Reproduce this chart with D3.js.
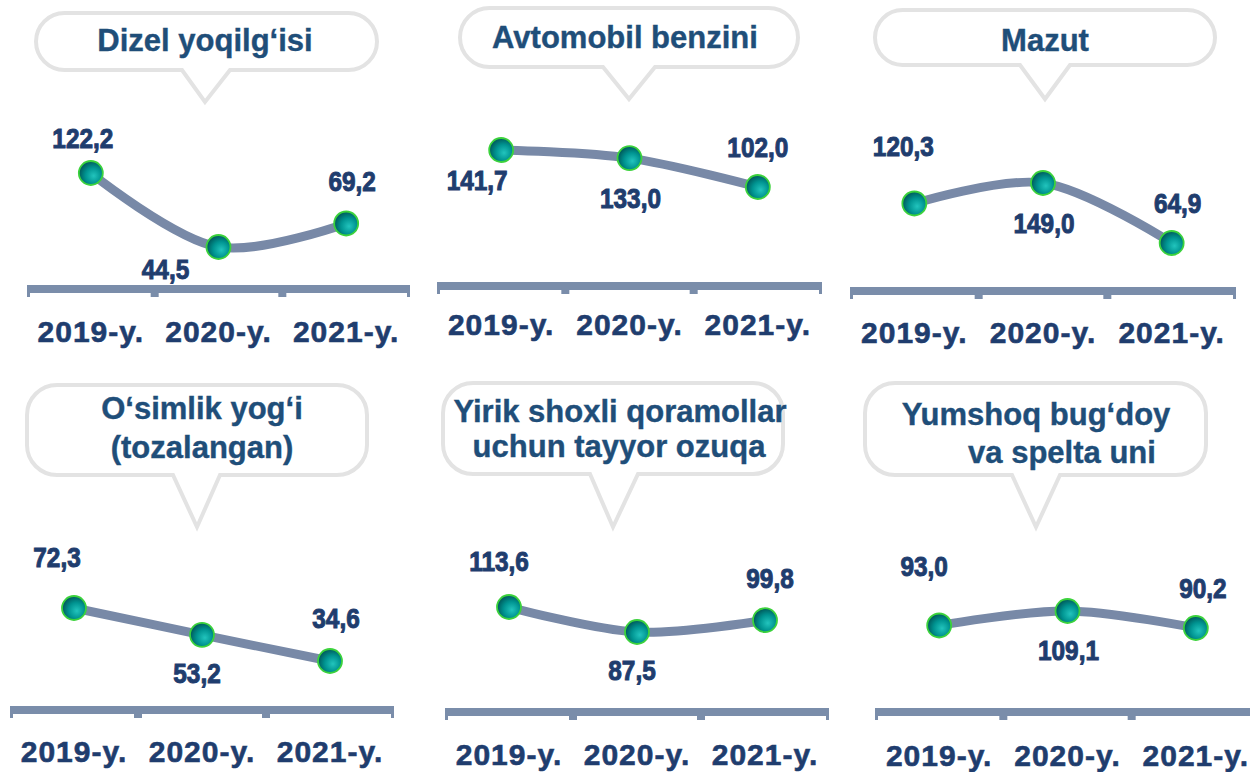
<!DOCTYPE html>
<html>
<head>
<meta charset="utf-8">
<script src="https://cdn.jsdelivr.net/npm/d3@7"></script>
<style>
  body { margin: 0; background: #fff; }
  svg { display: block; font-family: "Liberation Sans", Arial, sans-serif; }
</style>
</head>
<body>
<div id="chart"></div>
<script>
// Data
const years = ["2019-y.", "2020-y.", "2021-y."];
const titles = [
    ["Dizel yoqilg‘isi"],
    ["Avtomobil benzini"],
    ["Mazut"],
    ["O‘simlik yog‘i", "(tozalangan)"],
    ["Yirik shoxli qoramollar", "uchun tayyor ozuqa"],
    ["Yumshoq bug‘doy", "va spelta uni"]
];
const dizel = [122.2, 44.5, 69.2];
const benzin = [141.7, 133.0, 102.0];
const mazut = [120.3, 149.0, 64.9];
const osimlikYogi = [72.3, 53.2, 34.6];
const ozuqa = [113.6, 87.5, 99.8];
const bugdoyUni = [93.0, 109.1, 90.2];
const series = [dizel, benzin, mazut, osimlikYogi, ozuqa, bugdoyUni];

// Layout of each small panel (pixels)
const layout = [
    {ax: [27, 410], axisY: 285, tickY: 57, yr: [247, 173],
     bub: [36, 13, 377, 70], tail: [182, 230, 205, 102], tx: [205, 205], ty: [51],
     lab: [[-8, -25], [-53, 32], [6, -32]]},
    {ax: [437, 822], axisY: 282, tickY: 53, yr: [187, 150],
     bub: [460, 8, 798, 67], tail: [603, 655, 629, 99], tx: [625], ty: [48],
     lab: [[-24, 40], [1, 50], [0, -30]]},
    {ax: [850, 1236], axisY: 287, tickY: 56, yr: [243, 183],
     bub: [875, 10, 1215, 65], tail: [1020, 1070, 1045, 99], tx: [1045], ty: [51],
     lab: [[-11, -47], [1, 50], [6, -30]]},
    {ax: [10, 394], axisY: 706, tickY: 56, yr: [661, 608],
     bub: [27, 385, 367, 475], tail: [173, 220, 197, 527], tx: [202, 202], ty: [419, 458],
     lab: [[-17, -41], [-5, 48], [6, -33]]},
    {ax: [445, 829], axisY: 708, tickY: 57, yr: [632, 607],
     bub: [443, 383, 783, 474], tail: [590, 638, 613, 527], tx: [620, 619], ty: [422, 457],
     lab: [[-10, -36], [-5, 48], [5, -32]]},
    {ax: [875, 1260], axisY: 708, tickY: 58, yr: [628, 611],
     bub: [865, 383, 1206, 475], tail: [1012, 1060, 1036, 527], tx: [1036, 1062], ty: [425, 463],
     lab: [[-15, -49], [1, 49], [7, -30]]}
];

const width = 1250;
const height = 772;
const titleColor = '#1f4e79';
const valueColor = '#1f3d6e';
const axisColor = '#7a8daa';
const lineColor = '#7889a7';

const fmt = d3.formatLocale({decimal: ",", thousands: " ", grouping: [3], currency: ["", ""]}).format(".1f");

const svg = d3.select('#chart')
    .append('svg')
    .attr('width', width)
    .attr('height', height)
    .attr('viewBox', [0, 0, width, height]);

// Sphere look for the markers
const grad = svg.append('defs').append('radialGradient')
    .attr('id', 'ball')
    .attr('cx', '60%').attr('cy', '60%').attr('r', '60%')
    .attr('fx', '62%').attr('fy', '62%');
grad.append('stop').attr('offset', '0%').attr('stop-color', '#22c4bd');
grad.append('stop').attr('offset', '55%').attr('stop-color', '#009491');
grad.append('stop').attr('offset', '100%').attr('stop-color', '#005a5c');

function bubblePath(b, t) {
    const [x0, y0, x1, y1] = b;
    const r = Math.min(30, (y1 - y0) / 2);
    const [bl, br, tipX, tipY] = t;
    return `M${x0 + r},${y0}H${x1 - r}A${r},${r} 0 0 1 ${x1},${y0 + r}V${y1 - r}` +
        `A${r},${r} 0 0 1 ${x1 - r},${y1}H${br}L${tipX},${tipY}L${bl},${y1}H${x0 + r}` +
        `A${r},${r} 0 0 1 ${x0},${y1 - r}V${y0 + r}A${r},${r} 0 0 1 ${x0 + r},${y0}Z`;
}

series.forEach((values, i) => {
    const L = layout[i];
    const g = svg.append('g');

    const x = d3.scaleBand().domain(years).range(L.ax);
    const y = d3.scaleLinear().domain(d3.extent(values)).range(L.yr);
    const pts = values.map((v, j) => ({year: years[j], value: v}));

    // Speech bubble title
    g.append('path')
        .attr('d', bubblePath(L.bub, L.tail))
        .attr('fill', '#fff')
        .attr('stroke', '#e3e3e3')
        .attr('stroke-width', 4);

    g.append('g').selectAll('text')
        .data(titles[i])
        .join('text')
        .attr('x', (d, k) => L.tx[k] ?? L.tx[0])
        .attr('y', (d, k) => L.ty[k])
        .attr('text-anchor', 'middle')
        .attr('fill', titleColor)
        .attr('stroke', titleColor)
        .attr('stroke-width', 0.4)
        .style('font-size', '31px')
        .style('font-weight', 'bold')
        .text(d => d);

    // X axis: thick bar, ticks at band edges, year labels
    const axisG = g.append('g')
        .attr('transform', `translate(0,${L.axisY})`)
        .call(d3.axisBottom(x).tickSize(0).tickSizeOuter(0));
    axisG.select('.domain').remove();
    axisG.selectAll('.tick text')
        .attr('y', L.tickY)
        .attr('dy', 0)
        .attr('fill', valueColor)
        .attr('stroke', valueColor)
        .attr('stroke-width', 0.6)
        .style('font-size', '30px')
        .style('font-weight', 'bold')
        .style('letter-spacing', '1px')
        .style('font-family', '"Liberation Sans", Arial, sans-serif');

    axisG.append('rect')
        .attr('x', L.ax[0])
        .attr('y', 0)
        .attr('width', L.ax[1] - L.ax[0])
        .attr('height', 8)
        .attr('fill', axisColor);

    const edges = years.map(d => x(d)).concat([L.ax[1]]);
    axisG.selectAll('rect.tk')
        .data(edges)
        .join('rect')
        .attr('class', 'tk')
        .attr('x', (d, k) => (k === 0 ? d : k === edges.length - 1 ? d - 3 : d - 4))
        .attr('y', 6)
        .attr('width', (d, k) => (k === 0 || k === edges.length - 1 ? 3 : 8))
        .attr('height', 6)
        .attr('fill', axisColor);

    // Line
    const line = d3.line()
        .x(d => x(d.year) + x.bandwidth() / 2)
        .y(d => y(d.value))
        .curve(d3.curveCatmullRom.alpha(0.5));

    g.append('path')
        .datum(pts)
        .attr('d', line)
        .attr('fill', 'none')
        .attr('stroke', lineColor)
        .attr('stroke-width', 9);

    // Markers
    g.append('g').selectAll('circle')
        .data(pts)
        .join('circle')
        .attr('cx', d => x(d.year) + x.bandwidth() / 2)
        .attr('cy', d => y(d.value))
        .attr('r', 12)
        .attr('fill', 'url(#ball)')
        .attr('stroke', '#3cd23c')
        .attr('stroke-width', 1.8);

    // Value labels
    g.append('g').selectAll('text')
        .data(pts)
        .join('text')
        .attr('transform', (d, k) => {
            const px = x(d.year) + x.bandwidth() / 2 + L.lab[k][0];
            const py = y(d.value) + L.lab[k][1];
            return `translate(${px},${py}) scale(0.87,1)`;
        })
        .attr('text-anchor', 'middle')
        .attr('fill', valueColor)
        .attr('stroke', valueColor)
        .attr('stroke-width', 1)
        .style('font-size', '28px')
        .style('font-weight', 'bold')
        .text(d => fmt(d.value));
});
</script>
</body>
</html>
